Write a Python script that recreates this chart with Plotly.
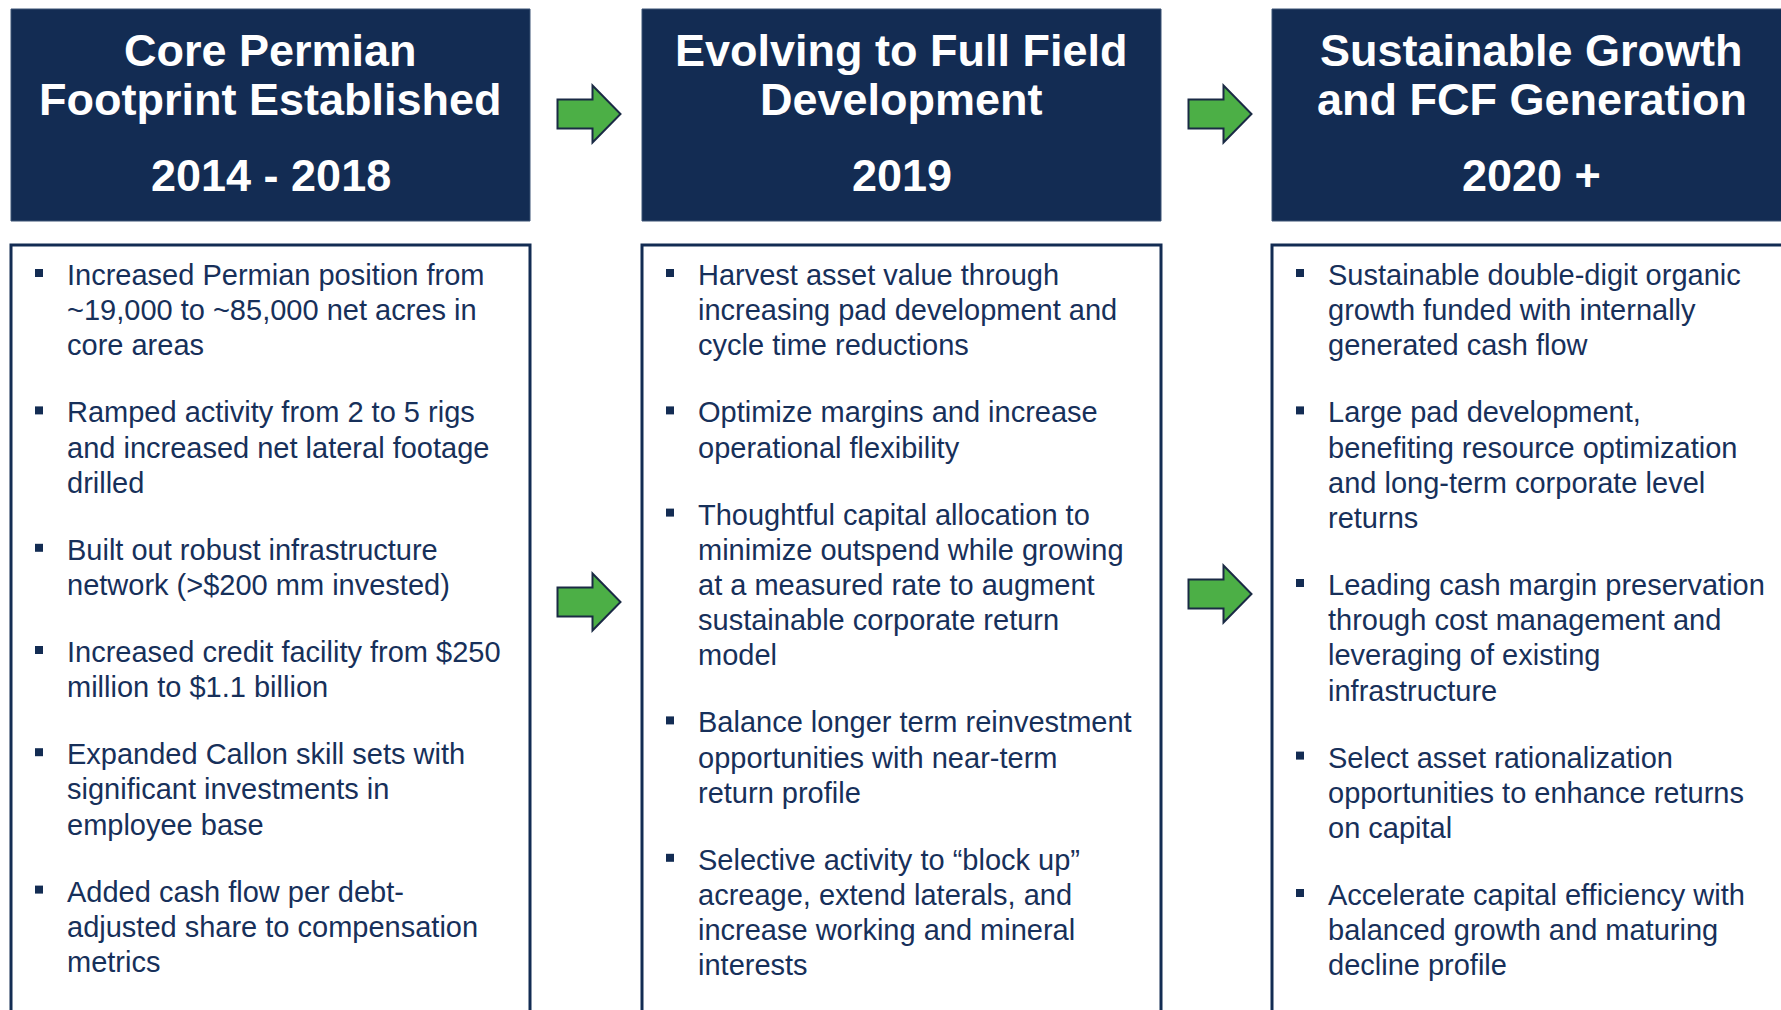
import plotly.graph_objects as go

W, H = 1781, 1010
NAVY = "#132C53"
TEXT = "#17305A"
GREEN = "#4CAF46"
FONT = "Liberation Sans, Arial, sans-serif"

# ---- content ----
col_titles = [["Core Permian", "Footprint Established"],
              ["Evolving to Full Field", "Development"],
              ["Sustainable Growth", "and FCF Generation"]]
col_periods = ["2014 - 2018", "2019", "2020 +"]

bullets_col1 = [
    ["Increased Permian position from", "~19,000 to ~85,000 net acres in", "core areas"],
    ["Ramped activity from 2 to 5 rigs", "and increased net lateral footage", "drilled"],
    ["Built out robust infrastructure", "network (>$200 mm invested)"],
    ["Increased credit facility from $250", "million to $1.1 billion"],
    ["Expanded Callon skill sets with", "significant investments in", "employee base"],
    ["Added cash flow per debt-", "adjusted share to compensation", "metrics"],
]
bullets_col2 = [
    ["Harvest asset value through", "increasing pad development and", "cycle time reductions"],
    ["Optimize margins and increase", "operational flexibility"],
    ["Thoughtful capital allocation to", "minimize outspend while growing",
     "at a measured rate to augment", "sustainable corporate return", "model"],
    ["Balance longer term reinvestment", "opportunities with near-term", "return profile"],
    ["Selective activity to \u201cblock up\u201d", "acreage, extend laterals, and",
     "increase working and mineral", "interests"],
]
bullets_col3 = [
    ["Sustainable double-digit organic", "growth funded with internally", "generated cash flow"],
    ["Large pad development,", "benefiting resource optimization",
     "and long-term corporate level", "returns"],
    ["Leading cash margin preservation", "through cost management and",
     "leveraging of existing", "infrastructure"],
    ["Select asset rationalization", "opportunities to enhance returns", "on capital"],
    ["Accelerate capital efficiency with", "balanced growth and maturing", "decline profile"],
]
columns = [bullets_col1, bullets_col2, bullets_col3]

# ---- layout geometry ----
col_left = [11, 642, 1272]
col_width = 519
head_top, head_bot = 9, 221
body_top = 245
first_line_y = 275
line_h = 35.2
para_gap = 31.8
arrow_centers = [(589, 114), (589, 602), (1220, 114), (1220, 594)]

fig = go.Figure()
shapes = []
annotations = []

for ci, left in enumerate(col_left):
    right = left + col_width
    cx = (left + right) / 2
    shapes.append(dict(type="rect", x0=left, x1=right, y0=head_top, y1=head_bot,
                       fillcolor=NAVY, line=dict(color="#3B5274", width=1), layer="below"))
    shapes.append(dict(type="rect", x0=left, x1=right, y0=body_top, y1=H + 20,
                       fillcolor="white", line=dict(color=NAVY, width=3), layer="below"))
    for li, t in enumerate(col_titles[ci]):
        annotations.append(dict(x=cx, y=[50, 99][li], text="<b>%s</b>" % t, showarrow=False,
                                xanchor="center", yanchor="middle",
                                font=dict(family=FONT, size=45, color="white")))
    annotations.append(dict(x=cx, y=175, text="<b>%s</b>" % col_periods[ci], showarrow=False,
                            xanchor="center", yanchor="middle",
                            font=dict(family=FONT, size=45, color="white")))

    y = first_line_y
    bx, by = [], []
    for bullet in columns[ci]:
        bx.append(left + 28)
        by.append(y - 2)
        for line in bullet:
            annotations.append(dict(x=left + 54, y=y, text=line, showarrow=False,
                                    xanchor="left", yanchor="middle",
                                    font=dict(family=FONT, size=29, color=TEXT)))
            y += line_h
        y += para_gap
    fig.add_trace(go.Scatter(x=bx, y=by, mode="markers", hoverinfo="skip",
                             marker=dict(symbol="square", size=8, color=NAVY),
                             showlegend=False))

for (ax, ay) in arrow_centers:
    L, sh, hh, hl = 63, 14.5, 28.5, 28
    x0 = ax - L / 2
    x1 = ax + L / 2
    xh = x1 - hl
    path = (f"M{x0},{ay-sh} L{xh},{ay-sh} L{xh},{ay-hh} L{x1},{ay} "
            f"L{xh},{ay+hh} L{xh},{ay+sh} L{x0},{ay+sh} Z")
    shapes.append(dict(type="path", path=path, fillcolor=GREEN,
                       line=dict(color="#1A2A44", width=2)))

fig.update_layout(
    width=W, height=H,
    margin=dict(l=0, r=0, t=0, b=0),
    paper_bgcolor="white", plot_bgcolor="white",
    xaxis=dict(range=[0, W], visible=False, fixedrange=True),
    yaxis=dict(range=[H, 0], visible=False, fixedrange=True),
    shapes=shapes, annotations=annotations,
)
fig.write_html("out.html", config={"displayModeBar": False},
               post_script="document.body.style.margin='0';")
